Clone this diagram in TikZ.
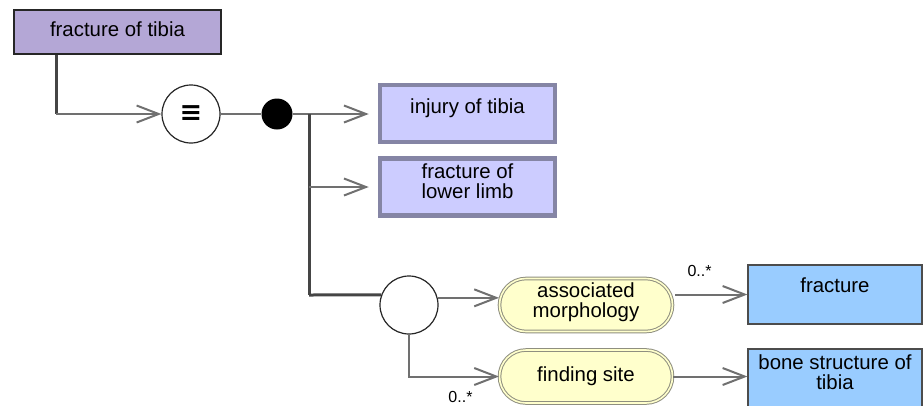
\documentclass[tikz,border=0pt]{standalone}
\usepackage{fontspec}
\setmainfont{Liberation Sans}
\newfontfamily\symfont{DejaVu Sans}
\usetikzlibrary{arrows.meta,shapes.misc}
\definecolor{lav}{HTML}{B4A7D6}
\definecolor{injfill}{HTML}{CCCCFF}
\definecolor{injline}{HTML}{8585A5}
\definecolor{pillfill}{HTML}{FFFFCC}
\definecolor{pillline}{HTML}{8F8F80}
\definecolor{clsfill}{HTML}{99CCFF}
\definecolor{linegray}{HTML}{707070}
\definecolor{darkline}{HTML}{454545}
\begin{document}
\begin{tikzpicture}[x=1pt,y=-1pt,
  every node/.style={font=\fontsize{20.4}{20.5}\selectfont, align=center, inner sep=0pt},
  topbox/.style={rectangle, draw=black!85, line width=1.3pt, fill=lav, minimum width=207pt, minimum height=44pt, text depth=5pt},
  eqvc/.style={circle, draw=black!85, line width=1.2pt, fill=white, minimum size=58pt},
  blackdot/.style={circle, fill=black, minimum size=31pt},
  injbox/.style={rectangle, draw=injline, line width=4.5pt, fill=injfill, minimum width=175pt, minimum height=57pt},
  pill/.style={rounded rectangle, draw=pillline, line width=1pt, double=pillfill, double distance=1.6pt, fill=pillfill, minimum width=173pt, minimum height=53pt},
  clsbox/.style={rectangle, draw=black!70, line width=1.2pt, fill=clsfill, minimum width=174pt},
  card/.style={font=\fontsize{16}{16}\selectfont},
  conn/.style={draw=linegray, line width=2pt},
  trunk/.style={draw=darkline, line width=3pt},
  arr/.style={-{Straight Barb[length=22pt,width=17pt,line width=2pt]}}
]
\useasboundingbox (0,0) rectangle (923,405);
\clip (0,0) rectangle (923,405);

% nodes
\node[topbox] (ftib) at (117.5,32) {fracture of tibia};
\node[eqvc] (eq) at (191,114) {};
\node[font=\fontsize{27}{27}\selectfont\symfont\bfseries] (eqsym) at (eq.center) {≡};
\node[blackdot] (dot) at (277,114) {};
\node[injbox, text depth=15pt] (inj) at (467.5,113.5) {injury of tibia};
\node[injbox, text depth=12pt] (flimb) at (467.5,187) {fracture of\\lower limb};
\coordinate (tt) at (309,114);
\coordinate (tb) at (309,295);
\node[eqvc] (c2) at (409,305) {};
\node[pill, text depth=10pt] (am) at (586,305) {associated\\morphology};
\node[pill] (fs) at (586,376.5) {finding site};
\node[clsbox, minimum height=59pt, text depth=18pt] (fx) at (835,294.5) {fracture};
\node[clsbox, minimum height=60pt, text depth=14pt] (bs) at (835,379) {bone structure of\\tibia};
\node[card] (k1) at (699.5,271) {0..*};
\node[card] (k2) at (460.5,397) {0..*};

% connectors
\draw[trunk] ([xshift=-61.5pt]ftib.south) -- ([xshift=-61.5pt]ftib.south |- eq.west);
\draw[conn, arr] ([xshift=-61.5pt]ftib.south |- eq.west) -- (eq.west);
\draw[conn] (eq.east) -- (dot.west);
\draw[conn, arr, shorten >=9pt] (dot.east) -- (dot -| inj.west);
\draw[trunk] (tt) -- (tb);
\draw[conn, arr, shorten >=9pt] (tt |- flimb.west) -- (flimb.west);
\draw[trunk] (tb) -- (c2.160);
\draw[conn, arr] (c2.14) -- (c2.14 -| am.west);
\draw[conn, arr] (c2.south) |- (fs.west);
\draw[conn, arr] ([xshift=2pt]am.east |- fx.west) -- (fx.west);
\draw[conn, arr] (fs.east) -- (fs.east -| bs.west);
\end{tikzpicture}
\end{document}
